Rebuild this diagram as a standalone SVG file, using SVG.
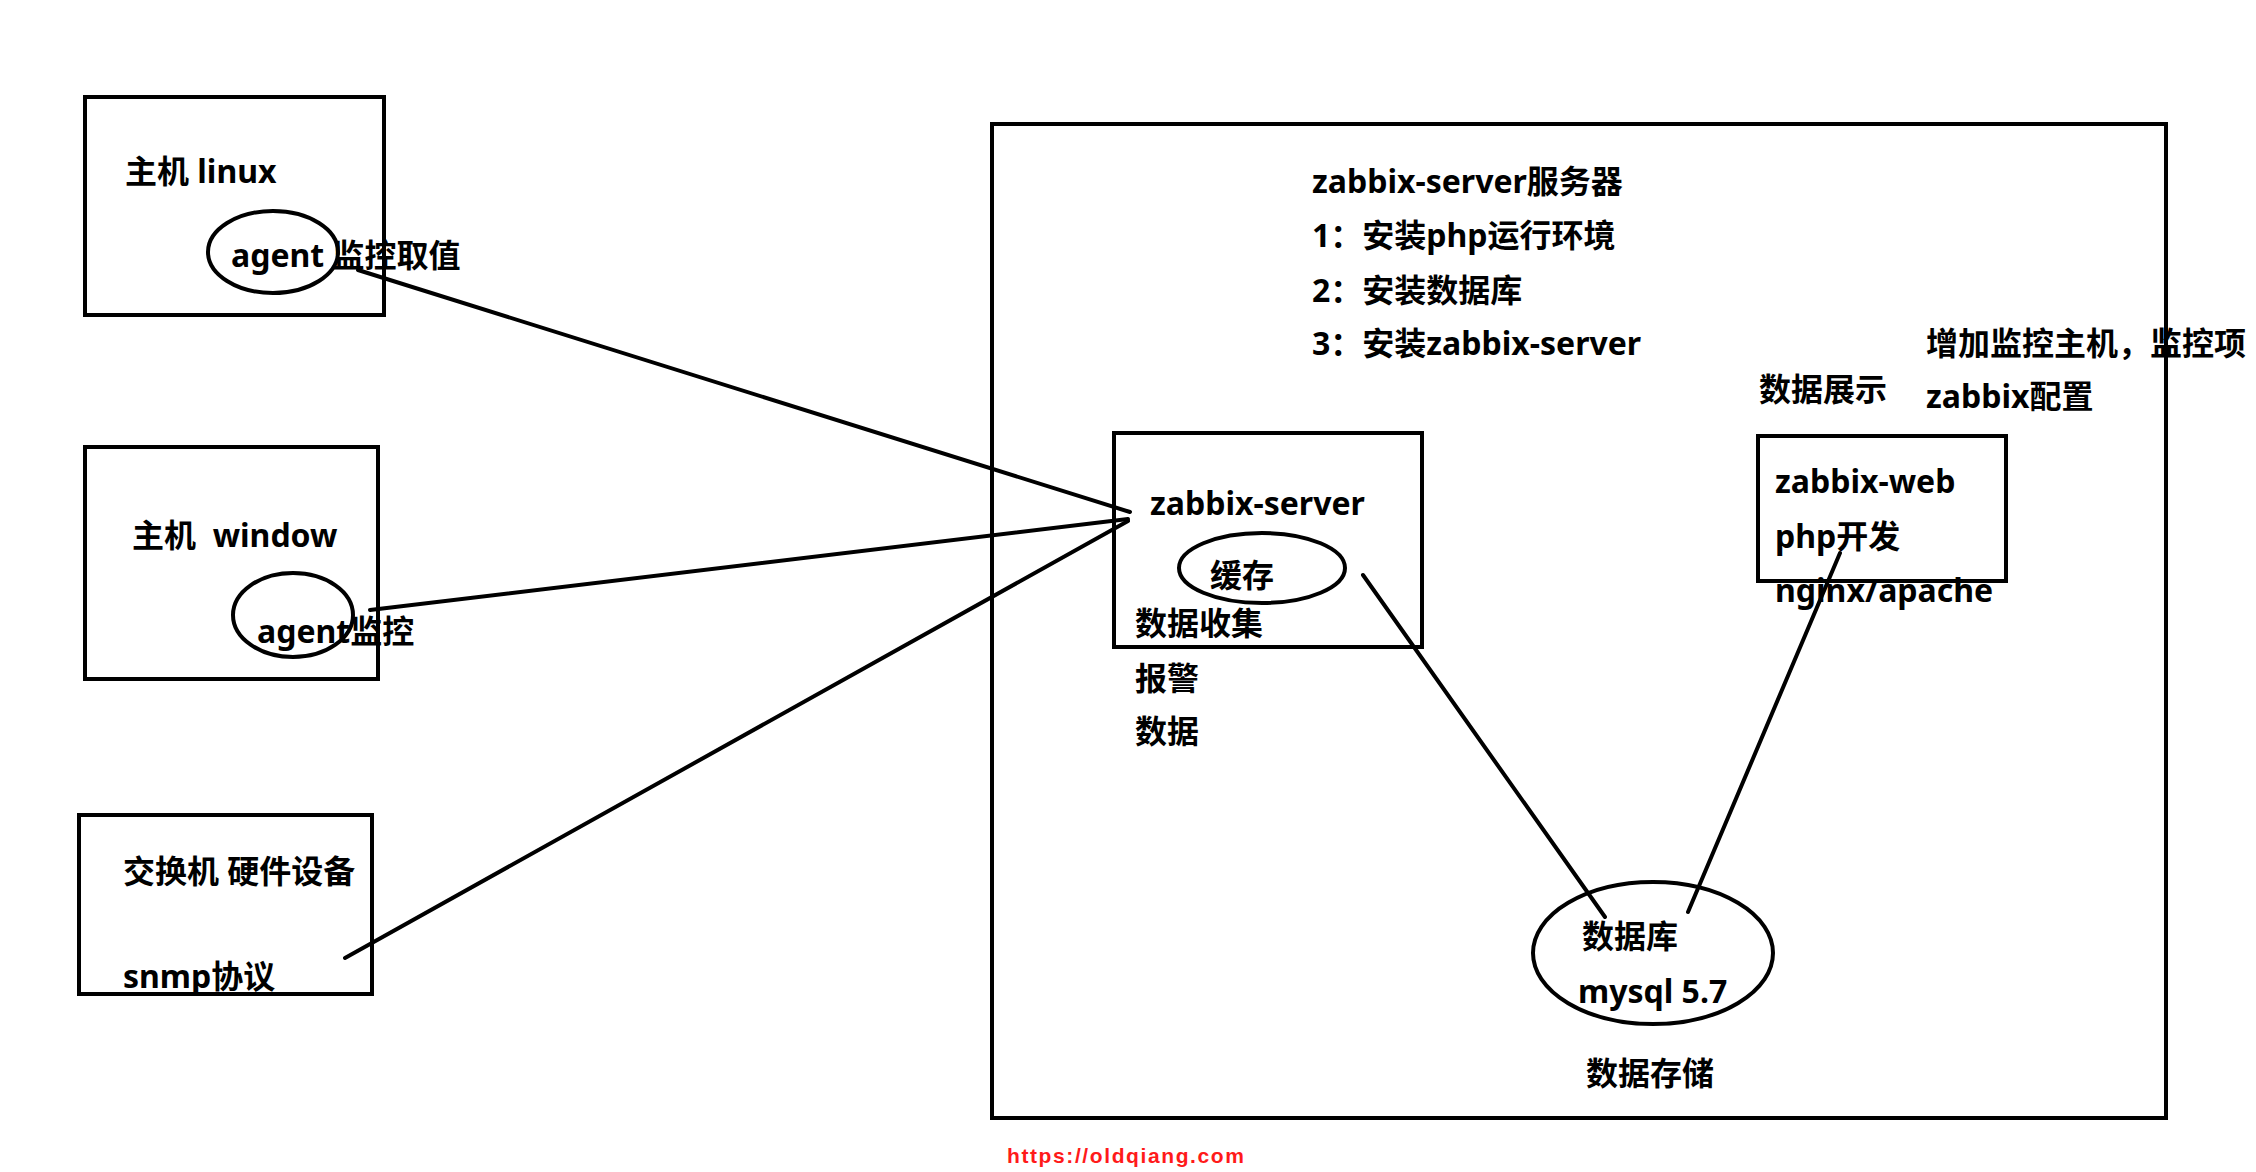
<svg xmlns="http://www.w3.org/2000/svg" width="2256" height="1172" viewBox="0 0 2256 1172">
<style>
  .box { fill: none; stroke: #000; stroke-width: 4; }
  .ell { fill: none; stroke: #000; stroke-width: 4; }
  .t { font-family: "Noto Sans", "Noto Sans CJK SC", sans-serif; font-weight: bold; font-size: 32px; fill: #000; white-space: pre; }
  .c { fill: none; stroke: #000; stroke-width: 4; stroke-linecap: round; }
  .url { font-family: "Liberation Sans", Arial, sans-serif; font-weight: bold; font-size: 21px; fill: #ff1a1a; letter-spacing: 1.6px; }
</style>
<rect width="2256" height="1172" fill="#fff"/>

<g id="server-host">
  <rect class="box" x="992" y="124" width="1174" height="994"/>
  <text class="t" x="1312" y="193">zabbix-server服务器</text>
  <text class="t" x="1312" y="247">1：安装php运行环境</text>
  <text class="t" x="1312" y="302">2：安装数据库</text>
  <text class="t" x="1312" y="355">3：安装zabbix-server</text>
</g>

<g id="host-linux">
  <rect class="box" x="85" y="97" width="299" height="218"/>
  <text class="t" x="125" y="183">主机 linux</text>
  <ellipse class="ell" cx="273" cy="252" rx="65" ry="41"/>
  <text class="t" x="231" y="267">agent 监控取值</text>
</g>

<g id="host-window">
  <rect class="box" x="85" y="447" width="293" height="232"/>
  <text class="t" x="132" y="547">主机  window</text>
  <ellipse class="ell" cx="293" cy="615" rx="60" ry="42"/>
  <text class="t" x="257" y="643">agent监控</text>
</g>

<g id="switch">
  <rect class="box" x="79" y="815" width="293" height="179"/>
  <text class="t" x="123" y="883">交换机 硬件设备</text>
  <text class="t" x="123" y="988">snmp协议</text>
</g>

<g id="zabbix-server">
  <rect class="box" x="1114" y="433" width="308" height="214"/>
  <text class="t" x="1150" y="515">zabbix-server</text>
  <ellipse class="ell" cx="1262" cy="568" rx="83" ry="35"/>
  <text class="t" x="1210" y="587">缓存</text>
  <text class="t" x="1135" y="635">数据收集</text>
  <text class="t" x="1135" y="690">报警</text>
  <text class="t" x="1135" y="743">数据</text>
</g>

<g id="zabbix-web">
  <text class="t" x="1759" y="401">数据展示</text>
  <text class="t" x="1926" y="355">增加监控主机，监控项</text>
  <text class="t" x="1926" y="408">zabbix配置</text>
  <rect class="box" x="1758" y="436" width="248" height="145"/>
  <text class="t" x="1775" y="493">zabbix-web</text>
  <text class="t" x="1775" y="548">php开发</text>
  <text class="t" x="1775" y="602">nginx/apache</text>
</g>

<g id="mysql">
  <ellipse class="ell" cx="1653" cy="953" rx="120" ry="71"/>
  <text class="t" x="1582" y="948">数据库</text>
  <text class="t" x="1578" y="1003">mysql 5.7</text>
  <text class="t" x="1586" y="1085">数据存储</text>
</g>

<g id="connectors">
  <line class="c" x1="358" y1="270" x2="1130" y2="512"/>
  <line class="c" x1="370" y1="610" x2="1128" y2="519"/>
  <line class="c" x1="345" y1="958" x2="1128" y2="521"/>
  <line class="c" x1="1363" y1="575" x2="1605" y2="917"/>
  <line class="c" x1="1840" y1="553" x2="1688" y2="912"/>
</g>

<text class="url" x="1007" y="1163">https://oldqiang.com</text>
</svg>
